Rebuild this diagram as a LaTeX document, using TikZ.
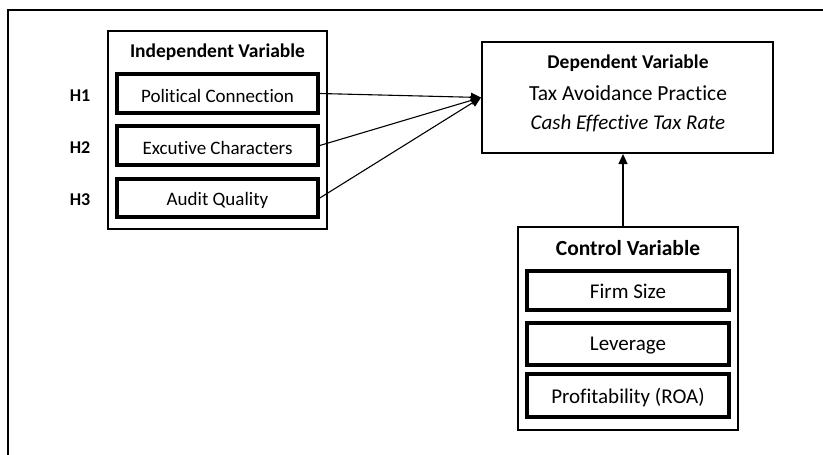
\documentclass[tikz,border=0pt]{standalone}
\usepackage{fontspec}
\setmainfont{Carlito}[Ligatures=NoCommon]
\usetikzlibrary{arrows.meta}
\begin{document}
\begin{tikzpicture}[x=1pt,y=-1pt,
  outerbox/.style={draw, line width=2pt, inner sep=0pt},
  innerbox/.style={draw, line width=3.6pt, inner sep=0pt, minimum width=201pt, text height=17pt, text depth=0pt, font=\fontsize{19}{22}\selectfont},
  ctrlbox/.style={innerbox, minimum width=202pt, text height=15pt, font=\fontsize{21}{24}\selectfont},
  title/.style={font=\fontsize{19.5}{22}\selectfont\bfseries, inner sep=0pt},
  hlabel/.style={font=\fontsize{18}{22}\selectfont\bfseries, inner sep=0pt},
  deptext/.style={font=\fontsize{21.5}{24}\selectfont, inner sep=0pt},
  conn/.style={line width=1.1pt, -{Triangle[length=10pt,width=9pt]}}
]
\useasboundingbox (0,0) rectangle (823,455);
\coordinate (fr1) at (823,10);
\coordinate (fr2) at (8,10);
\coordinate (fr3) at (8,455);
\draw[line width=1.8pt] (fr1) -- (fr2) -- (fr3);

% Independent variable
\node[outerbox, minimum width=219pt, minimum height=198pt] (iv) at (217.5,130) {};
\node[title] (ivt) at (217.5,52) {Independent Variable};
\node[innerbox, minimum height=39pt] (pc) at (217.5,93.5) {Political Connection};
\node[innerbox, minimum height=39pt] (ec) at (217.5,145.5) {Excutive Characters};
\node[innerbox, minimum height=38pt, text height=15pt] (aq) at (217.5,198) {Audit Quality};
\node[hlabel] (h1) at (80,96) {H1};
\node[hlabel] (h2) at (80,148) {H2};
\node[hlabel] (h3) at (80,200) {H3};

% Dependent variable
\node[outerbox, minimum width=291pt, minimum height=111pt] (dep) at (627.5,97.5) {};
\node[deptext, font=\fontsize{19.5}{24}\selectfont\bfseries] (dt1) at (628,63) {Dependent Variable};
\node[deptext] (dt2) at (628,93) {Tax Avoidance Practice};
\node[deptext, font=\fontsize{21}{24}\selectfont\itshape] (dt3) at (628,123) {Cash Effective Tax Rate};

% Control variable
\node[outerbox, minimum width=220pt, minimum height=203pt] (ctrl) at (628,328.5) {};
\node[title, font=\fontsize{21.5}{24}\selectfont\bfseries] (ct) at (628,248) {Control Variable};
\node[ctrlbox, minimum height=39pt] (fs) at (628,290.5) {Firm Size};
\node[ctrlbox, minimum height=42pt, text height=13pt] (lev) at (628,344) {Leverage};
\node[ctrlbox, minimum height=43pt] (roa) at (628,395.5) {Profitability (ROA)};

% Connectors
\coordinate (tip) at (dep.west);
\draw[conn] (pc.east) -- (tip);
\draw[conn] (ec.east) -- (tip);
\draw[conn] (aq.east) -- (tip);
\coordinate (cup) at (623,0);
\draw[conn] (ctrl.north -| cup) -- (dep.south -| cup);
\end{tikzpicture}
\end{document}
